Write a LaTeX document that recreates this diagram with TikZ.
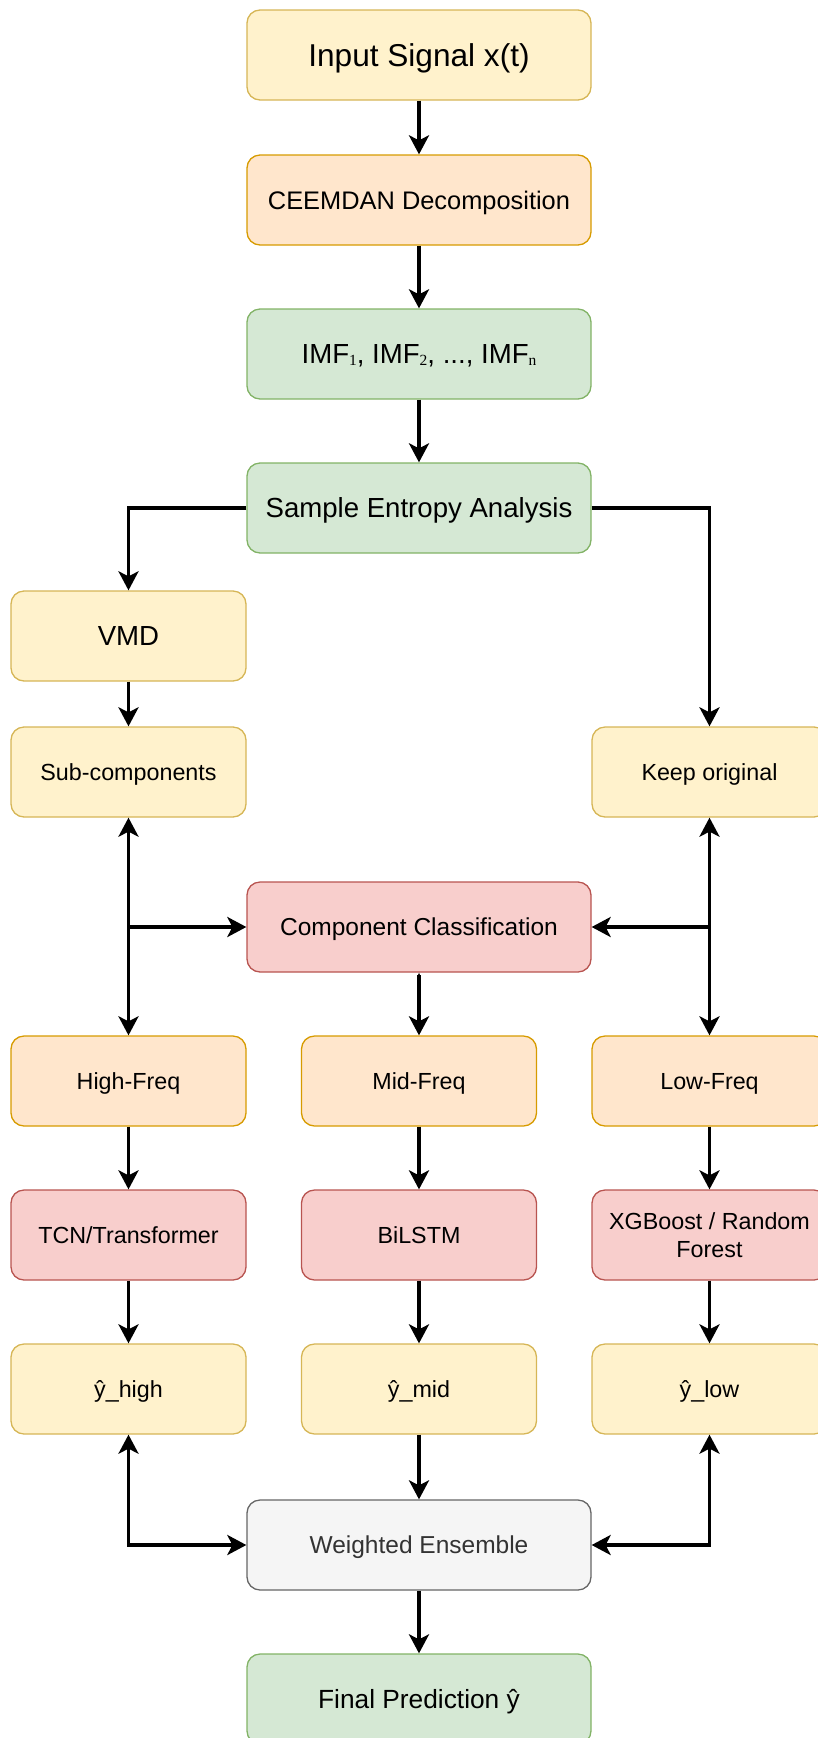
\documentclass[tikz,border=0pt]{standalone}
\usepackage{fontspec}
\setmainfont{Liberation Sans}
\newfontfamily\subserif{Liberation Serif}
\usetikzlibrary{arrows.meta}

\definecolor{yelfill}{HTML}{FFF2CC}
\definecolor{yeldraw}{HTML}{D6B656}
\definecolor{orafill}{HTML}{FFE6CC}
\definecolor{oradraw}{HTML}{D79B00}
\definecolor{grnfill}{HTML}{D5E8D4}
\definecolor{grndraw}{HTML}{82B366}
\definecolor{redfill}{HTML}{F8CECC}
\definecolor{reddraw}{HTML}{B85450}
\definecolor{gryfill}{HTML}{F5F5F5}
\definecolor{grydraw}{HTML}{666666}
\definecolor{grytext}{HTML}{333333}

\newcommand{\imfsub}[1]{{\subserif\fontsize{15.5}{18}\selectfont\raisebox{-1.5pt}{#1}}}

\begin{document}
\begin{tikzpicture}[x=1pt,y=-1pt,
  box/.style={rounded corners=13pt,line width=1.3pt,minimum height=90pt,align=center,inner sep=2pt,text depth=0pt},
  widebox/.style={box,minimum width=344pt},
  narrowbox/.style={box,minimum width=235pt},
  yel/.style={fill=yelfill,draw=yeldraw},
  ora/.style={fill=orafill,draw=oradraw},
  grn/.style={fill=grnfill,draw=grndraw},
  rdd/.style={fill=redfill,draw=reddraw},
  gry/.style={fill=gryfill,draw=grydraw,text=grytext},
  txtbig/.style={font=\fontsize{31.6}{38}\selectfont,text height=22.7pt},
  txtmid/.style={font=\fontsize{27.6}{33}\selectfont,text height=19.8pt},
  txtmed/.style={font=\fontsize{25.4}{30}\selectfont,text height=18.3pt},
  txtsmall/.style={font=\fontsize{23.3}{28}\selectfont,text height=16.8pt},
  conn/.style={line width=3.4pt,-{Stealth[length=19pt,width=20pt,inset=5pt]}},
  twoway/.style={line width=3.4pt,{Stealth[length=19pt,width=20pt,inset=5pt]}-{Stealth[length=19pt,width=20pt,inset=5pt]}}]

\useasboundingbox (0,0) rectangle (817,1738);

% main column
\node[widebox,yel,txtbig] (in) at (419,55) {Input Signal x(t)};
\node[widebox,ora,txtmed] (ceem) at (419,200) {CEEMDAN Decomposition};
\node[widebox,grn,txtmid] (imf) at (419,354) {IMF\imfsub{1}, IMF\imfsub{2}, ..., IMF\imfsub{n}};
\node[widebox,grn,txtmid] (sampen) at (419,508) {Sample Entropy Analysis};

\node[narrowbox,yel,txtmid] (vmd) at (128.5,636) {VMD};
\node[narrowbox,yel,txtsmall] (sub) at (128.5,772) {Sub-components};
\node[narrowbox,yel,txtsmall] (keep) at (709.5,772) {Keep original};

\node[widebox,rdd,font=\fontsize{24.5}{29}\selectfont,text height=17.6pt] (cls) at (419,927) {Component Classification};

% frequency bands
\node[narrowbox,ora,txtsmall] (hf) at (128.5,1081) {High-Freq};
\node[narrowbox,ora,txtsmall] (mf) at (419,1081) {Mid-Freq};
\node[narrowbox,ora,txtsmall] (lf) at (709.5,1081) {Low-Freq};

% models
\node[narrowbox,rdd,txtsmall] (tcn) at (128.5,1235) {TCN/Transformer};
\node[narrowbox,rdd,txtsmall] (bilstm) at (419,1235) {BiLSTM};
\node[narrowbox,rdd,txtsmall,text height={},text depth={}] (xgb) at (709.5,1235) {XGBoost / Random\\Forest};

\node[narrowbox,yel,txtsmall] (yh) at (128.5,1389) {ŷ\_high};
\node[narrowbox,yel,txtsmall] (ym) at (419,1389) {ŷ\_mid};
\node[narrowbox,yel,txtsmall] (yl) at (709.5,1389) {ŷ\_low};

\node[widebox,gry,font=\fontsize{24.5}{29}\selectfont,text height=17.6pt] (ens) at (419,1545) {Weighted Ensemble};
\node[widebox,grn,font=\fontsize{26.3}{31}\selectfont,text height=18.9pt] (fin) at (419,1699) {Final Prediction ŷ};

% arrows
\draw[conn] (in) -- (ceem);
\draw[conn] (ceem) -- (imf);
\draw[conn] (imf) -- (sampen);
\draw[conn] (sampen.west) -| (vmd.north);
\draw[conn] (sampen.east) -| (keep.north);
\draw[conn] (vmd) -- (sub);

\draw[twoway] (sub.south) -- (hf.north);
\draw[conn] (sub.south |- cls.west) -- (cls.west);
\draw[twoway] (keep.south) -- (lf.north);
\draw[conn] (keep.south |- cls.east) -- (cls.east);
\draw[line width=3.4pt,{Stealth[length=4pt,width=3pt]}-{Stealth[length=19pt,width=20pt,inset=5pt]}] (cls) -- (mf);

\draw[conn] (hf) -- (tcn);
\draw[conn] (mf) -- (bilstm);
\draw[conn] (lf) -- (xgb);
\draw[conn] (tcn) -- (yh);
\draw[conn] (bilstm) -- (ym);
\draw[conn] (xgb) -- (yl);

\draw[twoway] (yh.south) |- (ens.west);
\draw[conn] (ym) -- (ens);
\draw[twoway] (yl.south) |- (ens.east);
\draw[conn] (ens) -- (fin);

\end{tikzpicture}
\end{document}
